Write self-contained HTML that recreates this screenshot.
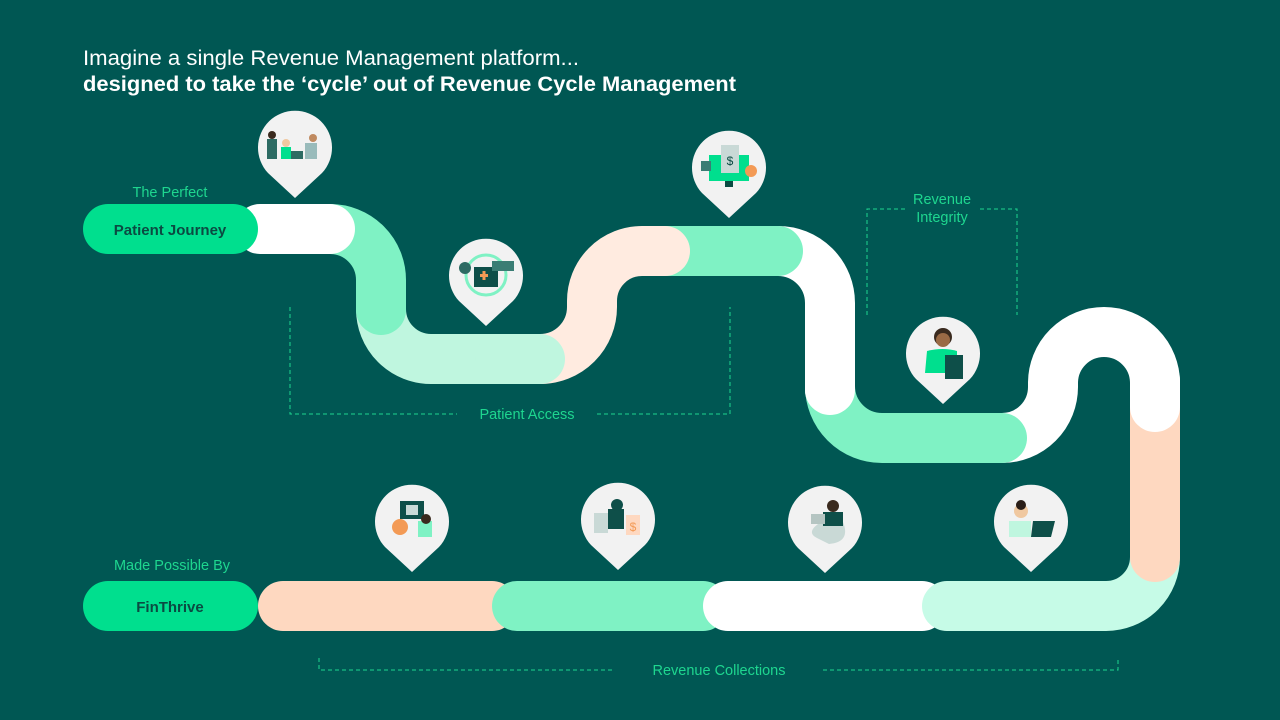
<!DOCTYPE html>
<html><head><meta charset="utf-8"><style>
html,body{margin:0;padding:0;background:#005753;}
svg{display:block}
text{font-family:"Liberation Sans",sans-serif}
</style></head><body>
<svg width="1280" height="720" viewBox="0 0 1280 720" xmlns="http://www.w3.org/2000/svg">
<rect width="1280" height="720" fill="#005753"/>
<text x="83" y="65" font-size="21" fill="#ffffff" textLength="496" lengthAdjust="spacingAndGlyphs">Imagine a single Revenue Management platform...</text>
<text x="83" y="91" font-size="21" font-weight="bold" fill="#ffffff" textLength="653" lengthAdjust="spacingAndGlyphs">designed to take the ‘cycle’ out of Revenue Cycle Management</text>

<!-- dashed brackets -->
<g stroke="#1ed68f" stroke-width="1" stroke-dasharray="4,3" fill="none">
<path d="M290 307 V414 H457 M597 414 H730 V307"/>
<path d="M867 315 V209 H905 M980 209 H1017 V315"/>
<path d="M319 658 V670 H614 M823 670 H1118 V658"/>
</g>
<g fill="#1ed68f" font-size="14.5">
<text x="527" y="419" text-anchor="middle">Patient Access</text>
<text x="942" y="204" text-anchor="middle">Revenue</text>
<text x="942" y="222" text-anchor="middle">Integrity</text>
<text x="719" y="675" text-anchor="middle">Revenue Collections</text>
<text x="170" y="197" text-anchor="middle">The Perfect</text>
<text x="172" y="570" text-anchor="middle">Made Possible By</text>
</g>

<g fill="none" stroke-width="50" stroke-linecap="round">
<!-- top -->
<path d="M381 300 L381 309 A50 50 0 0 0 431 359 L540 359" stroke="#bff6df"/>
<path d="M330 229 A51 51 0 0 1 381 280 L381 310" stroke="#7ff2c4"/>
<path d="M260 229 L330 229" stroke="#ffffff"/>
<path d="M778 251 A52 52 0 0 1 830 303 L830 390" stroke="#ffffff" />
<path d="M1002 438 A51 51 0 0 0 1053 387 L1053 383 A51 51 0 0 1 1155 383 L1155 407" stroke="#ffffff"/>
<path d="M830 380 L830 386 A52 52 0 0 0 882 438 L1002 438" stroke="#7ff2c4"/>
<path d="M830 360 L830 390" stroke="#ffffff"/>
<path d="M665 251 L778 251" stroke="#7ff2c4"/>
<path d="M540 359 A52 52 0 0 0 592 307 L592 301 A50 50 0 0 1 642 251 L665 251" stroke="#ffebe0"/>
<path d="M500 359 L540 359" stroke="#bff6df"/>
<!-- bottom -->
<path d="M283 606 L492 606" stroke="#fed8c0"/>
<path d="M517 606 L703 606" stroke="#7ff2c4"/>
<path d="M728 606 L922 606" stroke="#ffffff"/>
<path d="M1155 557 A49 49 0 0 1 1106 606 L947 606" stroke="#c6fbe7"/>
<path d="M1155 407 L1155 557" stroke="#fed8c0"/>
<path d="M1155 380 L1155 407" stroke="#ffffff"/>
</g>

<!-- pills -->
<rect x="83" y="204" width="175" height="50" rx="25" fill="#00df8e"/>
<text x="170" y="235" text-anchor="middle" font-size="15" font-weight="bold" fill="#0b4a42">Patient Journey</text>
<rect x="83" y="581" width="175" height="50" rx="25" fill="#00df8e"/>
<text x="170" y="612" text-anchor="middle" font-size="15" font-weight="bold" fill="#0b4a42">FinThrive</text>

<!-- pins -->
<defs>
<path id="pin" d="M-27 26 L0 51 L27 26 A37 37 0 1 0 -27 26 Z" fill="#f2f2f2"/>
</defs>
<g transform="translate(295,147)"><use href="#pin"/>
<rect x="-28" y="-8" width="10" height="20" fill="#2d6b63"/><circle cx="-23" cy="-12" r="4" fill="#3a2a1e"/>
<rect x="-14" y="0" width="10" height="12" fill="#00df8e"/><circle cx="-9" cy="-4" r="4" fill="#f0c8a0"/>
<rect x="-4" y="4" width="12" height="8" fill="#2d6b63"/>
<rect x="10" y="-4" width="12" height="16" fill="#9bb"/><circle cx="18" cy="-9" r="4" fill="#c08a60"/></g>
<g transform="translate(486,275)"><use href="#pin"/>
<circle cx="0" cy="0" r="20" fill="none" stroke="#7ff2c4" stroke-width="3"/>
<rect x="-12" y="-8" width="24" height="20" fill="#0e4f49"/><rect x="-6" y="-1" width="8" height="3" fill="#f39a55"/><rect x="-3.5" y="-4" width="3" height="9" fill="#f39a55"/>
<circle cx="-21" cy="-7" r="6" fill="#2d6b63"/><rect x="6" y="-14" width="22" height="10" fill="#3a7d74"/></g>
<g transform="translate(729,167)"><use href="#pin"/>
<rect x="-20" y="-12" width="40" height="26" fill="#00df8e"/><rect x="-8" y="-22" width="18" height="28" fill="#c9d9d6"/>
<text x="1" y="-2" font-size="12" fill="#0b4a42" text-anchor="middle">$</text>
<rect x="-28" y="-6" width="10" height="10" fill="#3a7d74"/><circle cx="22" cy="4" r="6" fill="#f39a55"/><rect x="-4" y="14" width="8" height="6" fill="#0b4a42"/></g>
<g transform="translate(943,353)"><use href="#pin"/>
<circle cx="0" cy="-16" r="9" fill="#3a2a1e"/><circle cx="0" cy="-13" r="7" fill="#9a6a45"/>
<path d="M-18 20 L-16 -2 Q0 -6 14 -2 L14 20 Z" fill="#00df8e"/><rect x="2" y="2" width="18" height="24" fill="#0e4f49"/></g>
<g transform="translate(412,521)"><use href="#pin"/>
<rect x="-12" y="-20" width="24" height="18" fill="#0e4f49"/><rect x="-6" y="-16" width="12" height="10" fill="#c9d9d6"/>
<circle cx="-12" cy="6" r="8" fill="#f39a55"/><rect x="6" y="0" width="14" height="16" fill="#7ff2c4"/><circle cx="14" cy="-2" r="5" fill="#3a2a1e"/></g>
<g transform="translate(618,519)"><use href="#pin"/>
<rect x="-24" y="-6" width="14" height="20" fill="#c9d9d6"/><rect x="-10" y="-10" width="16" height="20" fill="#0e4f49"/>
<circle cx="-1" cy="-14" r="6" fill="#0e4f49"/><rect x="8" y="-4" width="14" height="20" fill="#fed8c0"/>
<text x="15" y="12" font-size="12" fill="#f39a55" text-anchor="middle">$</text></g>
<g transform="translate(825,522)"><use href="#pin"/>
<path d="M-8 16 Q-20 10 -4 0 L18 0 Q26 20 4 22 Z" fill="#c9d9d6"/><rect x="-2" y="-10" width="20" height="14" fill="#0e4f49"/>
<circle cx="8" cy="-16" r="6" fill="#3a2a1e"/><rect x="-14" y="-8" width="14" height="10" fill="#b5c5c2"/></g>
<g transform="translate(1031,521)"><use href="#pin"/>
<circle cx="-10" cy="-10" r="7" fill="#f0c8a0"/><circle cx="-10" cy="-16" r="5" fill="#2a1e18"/>
<rect x="-22" y="0" width="22" height="16" fill="#bff6df"/><path d="M2 0 L24 0 L20 16 L0 16 Z" fill="#0e4f49"/></g>
</svg>
</body></html>
